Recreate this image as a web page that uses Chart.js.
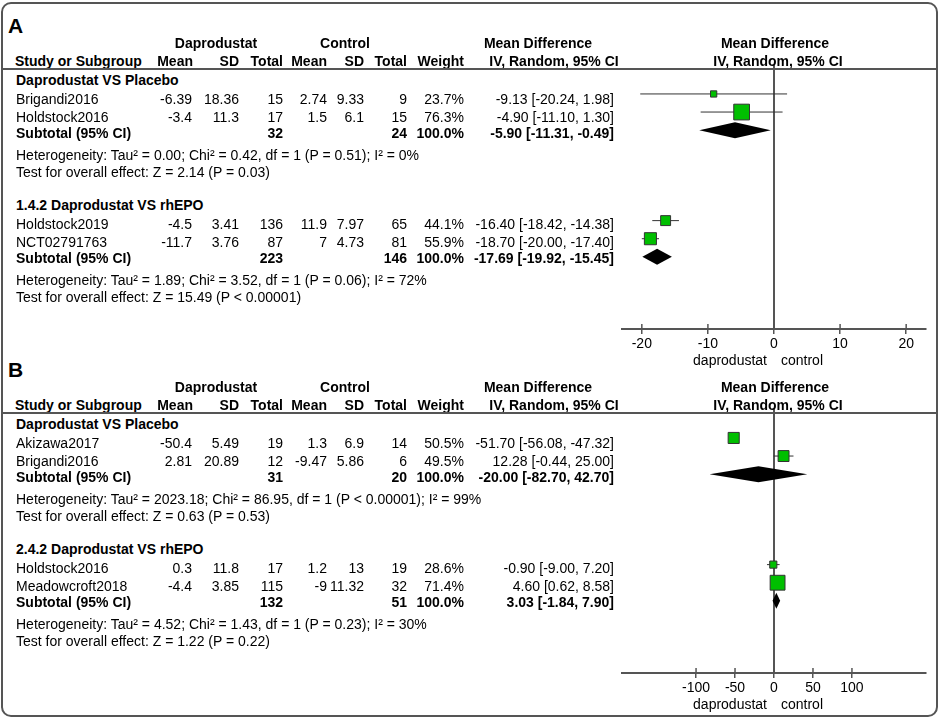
<!DOCTYPE html>
<html>
<head>
<meta charset="utf-8">
<script src="https://cdn.jsdelivr.net/npm/chart.js@4.4.1/dist/chart.umd.min.js"></script>
<style>
	body { margin: 0; background: #fff; }
	#page { position: relative; width: 941px; height: 719px; overflow: hidden; font-family: "Liberation Sans", Arial, sans-serif; font-size: 14px; color: #000; }
	.t { position: absolute; white-space: nowrap; line-height: 16px; }
	.b { font-weight: bold; }
	.frame { position: absolute; left: 1px; top: 2px; width: 937px; height: 715px; box-sizing: border-box; border: 2px solid #555; border-radius: 10px; }
	.rule { position: absolute; left: 1px; width: 937px; height: 0; border-top: 2px solid #555; }
	canvas { position: absolute; }
</style>
</head>
<body>
<div id="page">
	<div class="frame"></div>
	<canvas id="plotA" width="341" height="372" style="left:600px;top:0px;width:341px;height:372px"></canvas>
	<canvas id="plotB" width="341" height="372" style="left:600px;top:344px;width:341px;height:372px"></canvas>
</div>
<script>
// Panel A
const groupsA = ["Daprodustat VS Placebo", "1.4.2 Daprodustat VS rhEPO"];
const studyA = ["Brigandi2016", "Holdstock2016", "Holdstock2019", "NCT02791763"];
const groupOfA = [0, 0, 1, 1];
const expMeanA = [-6.39, -3.4, -4.5, -11.7];
const expSdA = [18.36, 11.3, 3.41, 3.76];
const expTotalA = [15, 17, 136, 87];
const ctlMeanA = [2.74, 1.5, 11.9, 7];
const ctlSdA = [9.33, 6.1, 7.97, 4.73];
const ctlTotalA = [9, 15, 65, 81];
const weightA = [23.7, 76.3, 44.1, 55.9];
const mdA = [-9.13, -4.90, -16.40, -18.70];
const loA = [-20.24, -11.10, -18.42, -20.00];
const hiA = [1.98, 1.30, -14.38, -17.40];
const subExpTotalA = [32, 223];
const subCtlTotalA = [24, 146];
const subMdA = [-5.90, -17.69];
const subLoA = [-11.31, -19.92];
const subHiA = [-0.49, -15.45];
const hetA = [
	"Heterogeneity: Tau² = 0.00; Chi² = 0.42, df = 1 (P = 0.51); I² = 0%",
	"Heterogeneity: Tau² = 1.89; Chi² = 3.52, df = 1 (P = 0.06); I² = 72%"
];
const effectA = [
	"Test for overall effect: Z = 2.14 (P = 0.03)",
	"Test for overall effect: Z = 15.49 (P < 0.00001)"
];
const ticksA = [-20, -10, 0, 10, 20];

// Panel B
const groupsB = ["Daprodustat VS Placebo", "2.4.2 Daprodustat VS rhEPO"];
const studyB = ["Akizawa2017", "Brigandi2016", "Holdstock2016", "Meadowcroft2018"];
const groupOfB = [0, 0, 1, 1];
const expMeanB = [-50.4, 2.81, 0.3, -4.4];
const expSdB = [5.49, 20.89, 11.8, 3.85];
const expTotalB = [19, 12, 17, 115];
const ctlMeanB = [1.3, -9.47, 1.2, -9];
const ctlSdB = [6.9, 5.86, 13, 11.32];
const ctlTotalB = [14, 6, 19, 32];
const weightB = [50.5, 49.5, 28.6, 71.4];
const mdB = [-51.70, 12.28, -0.90, 4.60];
const loB = [-56.08, -0.44, -9.00, 0.62];
const hiB = [-47.32, 25.00, 7.20, 8.58];
const subExpTotalB = [31, 132];
const subCtlTotalB = [20, 51];
const subMdB = [-20.00, 3.03];
const subLoB = [-82.70, -1.84];
const subHiB = [42.70, 7.90];
const hetB = [
	"Heterogeneity: Tau² = 2023.18; Chi² = 86.95, df = 1 (P < 0.00001); I² = 99%",
	"Heterogeneity: Tau² = 4.52; Chi² = 1.43, df = 1 (P = 0.23); I² = 30%"
];
const effectB = [
	"Test for overall effect: Z = 0.63 (P = 0.53)",
	"Test for overall effect: Z = 1.22 (P = 0.22)"
];
const ticksB = [-100, -50, 0, 50, 100];

// layout: right edges of table columns
const columns = {
	name: 16, expMean: 192, expSd: 239, expTotal: 283,
	ctlMean: 327, ctlSd: 364, ctlTotal: 407, weight: 464, ci: 614
};
const GROUP_ROWS = 7;
const page = document.getElementById("page");

function addText(x, y, text, align, bold, size) {
	const div = document.createElement("div");
	div.className = bold ? "t b" : "t";
	div.textContent = text;
	const width = 400;
	if (align === "right") {
		div.style.left = (x - width) + "px";
		div.style.width = width + "px";
		div.style.textAlign = "right";
	}
	else if (align === "center") {
		div.style.left = (x - width / 2) + "px";
		div.style.width = width + "px";
		div.style.textAlign = "center";
	}
	else {
		div.style.left = x + "px";
	}
	if (size) {
		div.style.fontSize = size + "px";
		div.style.lineHeight = (size + 2) + "px";
		div.style.top = (y - (size + 2) / 2) + "px";
	}
	else {
		div.style.top = (y - 8) + "px";
	}
	page.appendChild(div);
}

function ciText(md, lo, hi) {
	return `${md.toFixed(2)} [${lo.toFixed(2)}, ${hi.toFixed(2)}]`;
}

function drawTable(p) {
	const o = p.offset;
	addText(8, 25 + o, p.letter, "left", true, 21);
	addText(216, 43 + o, "Daprodustat", "center", true);
	addText(345, 43 + o, "Control", "center", true);
	addText(538, 43 + o, "Mean Difference", "center", true);
	addText(775, 43 + o, "Mean Difference", "center", true);
	addText(columns.name - 1, 61 + o, "Study or Subgroup", "left", true);
	addText(columns.expMean + 1, 61 + o, "Mean", "right", true);
	addText(columns.expSd, 61 + o, "SD", "right", true);
	addText(columns.expTotal, 61 + o, "Total", "right", true);
	addText(columns.ctlMean, 61 + o, "Mean", "right", true);
	addText(columns.ctlSd, 61 + o, "SD", "right", true);
	addText(columns.ctlTotal, 61 + o, "Total", "right", true);
	addText(columns.weight, 61 + o, "Weight", "right", true);
	addText(554, 61 + o, "IV, Random, 95% CI", "center", true);
	addText(778, 61 + o, "IV, Random, 95% CI", "center", true);
	const rule = document.createElement("div");
	rule.className = "rule";
	rule.style.top = (68 + o) + "px";
	page.appendChild(rule);

	p.groups.forEach((name, g) => {
		const h = 80 + g * 125 + o;
		addText(columns.name, h, name, "left", true);
		let k = 0;
		p.study.forEach((s, i) => {
			if (p.groupOf[i] !== g) return;
			const y = h + 19 + 18 * k;
			addText(columns.name, y, s, "left", false);
			addText(columns.expMean, y, String(p.expMean[i]), "right", false);
			addText(columns.expSd, y, String(p.expSd[i]), "right", false);
			addText(columns.expTotal, y, String(p.expTotal[i]), "right", false);
			addText(columns.ctlMean, y, String(p.ctlMean[i]), "right", false);
			addText(columns.ctlSd, y, String(p.ctlSd[i]), "right", false);
			addText(columns.ctlTotal, y, String(p.ctlTotal[i]), "right", false);
			addText(columns.weight, y, p.weight[i].toFixed(1) + "%", "right", false);
			addText(columns.ci, y, ciText(p.md[i], p.lo[i], p.hi[i]), "right", false);
			k++;
		});
		const ys = h + 53;
		addText(columns.name, ys, "Subtotal (95% CI)", "left", true);
		addText(columns.expTotal, ys, String(p.subExpTotal[g]), "right", true);
		addText(columns.ctlTotal, ys, String(p.subCtlTotal[g]), "right", true);
		addText(columns.weight, ys, "100.0%", "right", true);
		addText(columns.ci, ys, ciText(p.subMd[g], p.subLo[g], p.subHi[g]), "right", true);
		addText(columns.name, h + 75, p.het[g], "left", false);
		addText(columns.name, h + 92, p.effect[g], "left", false);
	});
}

const forestPlugin = {
	id: "forest",
	beforeDatasetsDraw(chart, args, opts) {
		const { ctx, chartArea, scales } = chart;
		const x0 = scales.x.getPixelForValue(0);
		ctx.save();
		ctx.strokeStyle = "#555";
		ctx.lineWidth = 2;
		ctx.beginPath();
		ctx.moveTo(x0, chartArea.top);
		ctx.lineTo(x0, chartArea.bottom);
		ctx.stroke();
		ctx.restore();
	},
	afterDatasetsDraw(chart, args, opts) {
		const { ctx, scales } = chart;
		ctx.save();
		ctx.fillStyle = "#000";
		opts.md.forEach((v, g) => {
			const xl = scales.x.getPixelForValue(opts.lo[g]);
			const xm = scales.x.getPixelForValue(v);
			const xh = scales.x.getPixelForValue(opts.hi[g]);
			const yc = scales.y.getPixelForValue(opts.rows[g]);
			ctx.beginPath();
			ctx.moveTo(xl, yc);
			ctx.lineTo(xm, yc - 8);
			ctx.lineTo(xh, yc);
			ctx.lineTo(xm, yc + 8);
			ctx.closePath();
			ctx.fill();
		});
		ctx.restore();
	},
	afterDraw(chart, args, opts) {
		const { ctx, chartArea, scales } = chart;
		const axisY = chartArea.bottom;
		ctx.save();
		ctx.strokeStyle = "#555";
		ctx.lineWidth = 1.5;
		scales.x.ticks.forEach(t => {
			const px = scales.x.getPixelForValue(t.value);
			ctx.beginPath();
			ctx.moveTo(px, axisY - 5);
			ctx.lineTo(px, axisY);
			ctx.stroke();
		});
		const x0 = scales.x.getPixelForValue(0);
		ctx.fillStyle = "#000";
		ctx.font = "14px 'Liberation Sans', Arial, sans-serif";
		ctx.textBaseline = "middle";
		ctx.textAlign = "right";
		ctx.fillText(opts.leftLabel, x0 - 7, axisY + 32);
		ctx.textAlign = "left";
		ctx.fillText(opts.rightLabel, x0 + 7, axisY + 32);
		ctx.restore();
	}
};

function drawPlot(p) {
	const counts = [0, 0];
	const rows = p.groupOf.map(g => g * GROUP_ROWS + counts[g]++);
	const subRows = p.groups.map((_, g) => g * GROUP_ROWS + counts[g]);
	const datasets = [{
		data: p.md.map((v, i) => ({ x: v, y: rows[i] })),
		pointStyle: "rect",
		pointRadius: p.weight.map(w => (2 + 0.18 * w) / Math.SQRT2),
		backgroundColor: "#00bf00",
		borderColor: "#333",
		borderWidth: 1,
		order: 0
	}];
	p.md.forEach((_, i) => {
		datasets.push({
			data: [{ x: p.lo[i], y: rows[i] }, { x: p.hi[i], y: rows[i] }],
			showLine: true,
			pointRadius: 0,
			borderColor: "#333",
			borderWidth: 1,
			order: 1
		});
	});
	const context = document.getElementById(p.canvasId).getContext("2d");
	new Chart(context, {
		type: "scatter",
		data: { datasets: datasets },
		options: {
			responsive: false,
			animation: false,
			events: [],
			layout: { padding: { left: 22, right: 15, top: 65, bottom: 0 } },
			plugins: {
				legend: { display: false },
				tooltip: { enabled: false },
				forest: {
					md: p.subMd, lo: p.subLo, hi: p.subHi, rows: subRows,
					leftLabel: "daprodustat", rightLabel: "control"
				}
			},
			scales: {
				x: {
					type: "linear",
					min: -p.range,
					max: p.range,
					afterBuildTicks: scale => { scale.ticks = p.ticks.map(v => ({ value: v })); },
					afterFit: scale => { scale.height = 43; },
					grid: { drawOnChartArea: false, drawTicks: true, tickLength: 5, color: "#555", lineWidth: 1.5 },
					border: { display: true, color: "#555", width: 2 },
					ticks: {
						color: "#000",
						font: { family: "'Liberation Sans', Arial, sans-serif", size: 14 },
						padding: 2,
						maxRotation: 0,
						autoSkip: false
					}
				},
				y: { type: "linear", display: false, reverse: true, min: -1.6, max: 12.99 }
			}
		},
		plugins: [forestPlugin]
	});
}

const panelA = {
	letter: "A", offset: 0, canvasId: "plotA", range: 23, ticks: ticksA,
	groups: groupsA, study: studyA, groupOf: groupOfA,
	expMean: expMeanA, expSd: expSdA, expTotal: expTotalA,
	ctlMean: ctlMeanA, ctlSd: ctlSdA, ctlTotal: ctlTotalA,
	weight: weightA, md: mdA, lo: loA, hi: hiA,
	subExpTotal: subExpTotalA, subCtlTotal: subCtlTotalA,
	subMd: subMdA, subLo: subLoA, subHi: subHiA, het: hetA, effect: effectA
};
const panelB = {
	letter: "B", offset: 344, canvasId: "plotB", range: 195, ticks: ticksB,
	groups: groupsB, study: studyB, groupOf: groupOfB,
	expMean: expMeanB, expSd: expSdB, expTotal: expTotalB,
	ctlMean: ctlMeanB, ctlSd: ctlSdB, ctlTotal: ctlTotalB,
	weight: weightB, md: mdB, lo: loB, hi: hiB,
	subExpTotal: subExpTotalB, subCtlTotal: subCtlTotalB,
	subMd: subMdB, subLo: subLoB, subHi: subHiB, het: hetB, effect: effectB
};

[panelA, panelB].forEach(p => {
	drawTable(p);
	drawPlot(p);
});
</script>
</body>
</html>
